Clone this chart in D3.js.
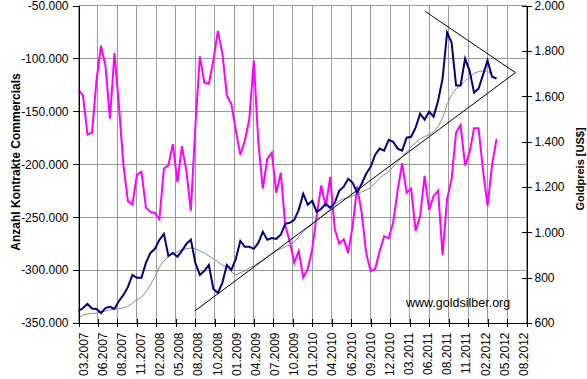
<!DOCTYPE html>
<html><head><meta charset="utf-8">
<script src="https://cdn.jsdelivr.net/npm/d3@7"></script>
<style>body{margin:0;background:#fff}svg{display:block}</style>
</head><body><svg id="c" width="587" height="379"></svg>
<script>
// ---- data ----
const tickLabels = ["03.2007","06.2007","08.2007","11.2007","02.2008","05.2008","08.2008","10.2008","01.2009","04.2009","07.2009","10.2009","01.2010","04.2010","06.2010","09.2010","12.2010","03.2011","06.2011","08.2011","11.2011","02.2012","05.2012","08.2012"];
const weeksPerTick = 13;     // one category label every 13 weeks
const sampleStepWeeks = 3;   // one data value every 3 weeks
// Commercials net position, thousands of contracts
const commercials = [-130,-135,-172,-170,-121,-88,-107,-157,-95,-145,
  -201,-235,-238,-210,-207,-241,-245,-246,-252,-204,
  -201,-181,-217,-183,-206,-244,-164,-98,-123,-124,
  -102,-74,-95,-135,-143,-168,-191,-178,-157,-102,
  -179,-223,-195,-189,-227,-208,-258,-273,-293,-282,
  -307,-299,-280,-248,-220,-240,-212,-261,-275,-271,
  -284,-258,-221,-246,-284,-301,-299,-282,-268,-270,
  -255,-225,-199,-227,-223,-263,-249,-211,-243,-230,
  -225,-286,-233,-214,-170,-163,-201,-189,-166,-166,
  -206,-239,-201,-176];
// Gold price, US$
const gold = [653,666,684,664,662,644,666,671,662,697,
  724,759,812,799,799,865,909,927,967,993,
  896,909,892,918,949,967,865,812,830,856,
  750,733,777,856,834,883,962,936,936,927,
  953,1002,967,975,971,989,1037,1042,1055,1099,
  1170,1121,1139,1090,1104,1126,1108,1130,1183,1201,
  1236,1218,1174,1214,1258,1289,1342,1369,1360,1408,
  1399,1369,1360,1417,1421,1461,1523,1497,1532,1510,
  1580,1678,1881,1837,1647,1647,1766,1713,1616,1633,
  1695,1757,1686,1678];
// Gold moving average, US$
const goldMA = [622,635,640,642,644,649,653,658,662,664,
  666,673,688,702,715,737,768,803,847,874,
  892,905,914,923,927,931,927,918,909,896,
  883,870,856,847,825,812,821,830,843,852,
  865,878,892,905,918,927,936,944,958,980,
  1002,1020,1037,1051,1068,1086,1104,1121,1139,1148,
  1152,1161,1170,1179,1187,1196,1218,1240,1254,1267,
  1289,1311,1333,1355,1377,1395,1413,1422,1430,1444,
  1466,1505,1563,1607,1633,1647,1669,1682,1700,1709,
  1711,1711,1691,1678];
const leftTicks = [-50,-100,-150,-200,-250,-300,-350];
const rightTicks = [2000,1800,1600,1400,1200,1000,800,600];
const trendLower = [{week:77.6, gold:653},{week:291.6, gold:1704}];
const trendUpper = [{week:231.4, gold:1974},{week:291.6, gold:1704}];
const leftTitle = "Anzahl Kontrakte Commercials";
const rightTitle = "Goldpreis [US$]";
const watermark = "www.goldsilber.org";

// ---- chart ----
const FONT = "Arial, 'Liberation Sans', sans-serif";
const svg = d3.select("#c");
const L = 78.5, R = 526.5, T = 5.5, B = 323;
const x = d3.scaleLinear().domain([0, (tickLabels.length-1)*weeksPerTick]).range([L, R]);
const yL = d3.scaleLinear().domain([-350, -50]).range([B, T]);
const yR = d3.scaleLinear().domain([600, 2000]).range([B, T]);
// category labels are spread slightly narrower than the tick marks
const xLab = d3.scalePoint().domain(tickLabels).range([87.6, 527.8]);
const loc = d3.formatLocale({decimal:",", thousands:".", grouping:[3], currency:["",""], minus:"-"});
const f = loc.format(",d");
const crisp = v => Math.round(v - 0.5) + 0.5;
const tickPos = tickLabels.map((d,i) => i*weeksPerTick);

svg.append("rect").attr("width",587).attr("height",379).attr("fill","#fff");

// gridlines
const grid = svg.append("g").attr("stroke","#999").attr("stroke-width",1).attr("shape-rendering","crispEdges");
grid.selectAll("line.h").data(leftTicks).join("line").attr("class","h")
  .attr("x1",L).attr("x2",R).attr("y1",d=>crisp(yL(d))).attr("y2",d=>crisp(yL(d)));
grid.selectAll("line.v").data(tickPos).join("line").attr("class","v")
  .attr("x1",d=>crisp(x(d))).attr("x2",d=>crisp(x(d))).attr("y1",T).attr("y2",B);

// series
const lineL = d3.line().x((d,i)=>x(i*sampleStepWeeks)).y(d=>yL(d));
const lineR = d3.line().x((d,i)=>x(i*sampleStepWeeks)).y(d=>yR(d));
svg.append("path").datum(commercials).attr("d",lineL).attr("fill","none")
  .attr("stroke","#ff00ff").attr("stroke-width",2).attr("stroke-linejoin","miter");
svg.append("path").datum(goldMA).attr("d",lineR).attr("fill","none")
  .attr("stroke","#8c8c8c").attr("stroke-width",1);
svg.append("path").datum(gold).attr("d",lineR).attr("fill","none")
  .attr("stroke","#000080").attr("stroke-width",2).attr("stroke-linejoin","miter");

// trend lines
const tl = d3.line().x(d=>x(d.week)).y(d=>yR(d.gold));
[trendLower, trendUpper].forEach(t => svg.append("path").datum(t).attr("d",tl)
  .attr("fill","none").attr("stroke","#000").attr("stroke-width",1));

// axes
const axL = svg.append("g").attr("transform",`translate(${L},0)`)
  .call(d3.axisLeft(yL).tickValues(leftTicks).tickFormat(d=>f(d*1000)).tickSize(6).tickSizeOuter(0).tickPadding(4));
const axR = svg.append("g").attr("transform",`translate(${R},0)`)
  .call(d3.axisRight(yR).tickValues(rightTicks).tickFormat(f).tickSize(5).tickSizeOuter(0).tickPadding(3));
axR.selectAll(".tick line").attr("x1",-5).attr("x2",5);
const axB = svg.append("g").attr("transform",`translate(0,${B})`)
  .call(d3.axisBottom(x).tickValues(tickPos).tickFormat("").tickSize(4).tickSizeOuter(0));
axB.selectAll(".tick line").attr("y1",-4).attr("y2",4);
axB.selectAll(".tick text").remove();
const labs = svg.append("g").attr("font-family",FONT).attr("font-size",12).attr("fill","#000");
labs.selectAll("text").data(tickLabels).join("text")
  .attr("transform",d=>`translate(${xLab(d)},${B+9.5}) rotate(-90)`)
  .attr("text-anchor","end").text(d=>d);
[axL, axR, axB].forEach(a => {
  a.attr("font-family",FONT).attr("font-size",12);
  a.selectAll("text").attr("fill","#000");
  a.selectAll("line,path").attr("stroke","#000").attr("shape-rendering","crispEdges");
});

// titles
svg.append("text").attr("transform","translate(19.5,162) rotate(-90)").attr("text-anchor","middle")
  .attr("font-family",FONT).attr("font-size",12).attr("font-weight","bold").text(leftTitle);
svg.append("text").attr("transform","translate(584,169) rotate(-90)").attr("text-anchor","middle")
  .attr("font-family",FONT).attr("font-size",11).attr("font-weight","bold").text(rightTitle);
svg.append("text").attr("x",406).attr("y",307).attr("font-family",FONT).attr("font-size",12.5).text(watermark);
</script></body></html>
